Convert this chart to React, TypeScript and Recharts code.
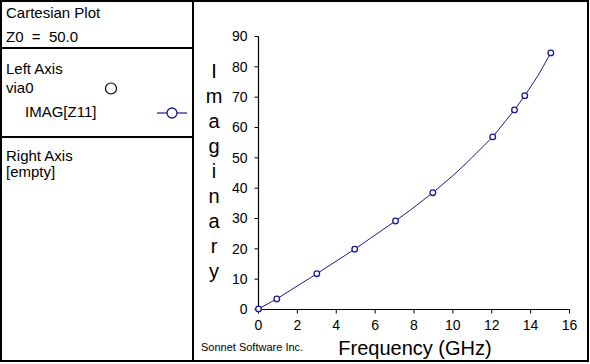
import React from "react";
import { LineChart, Line, XAxis, YAxis } from "recharts";

// Swept frequencies (GHz) and IMAG[Z11] values
const freqs = [0, 0.94, 3.0, 4.95, 7.05, 7.9, 8.97, 10.1, 10.7, 12.05, 13.17, 13.7, 14.37, 15.04];
const imagZ11 = [0.2, 3.5, 11.8, 19.9, 29.2, 33.2, 38.5, 44.7, 48.3, 56.9, 65.8, 70.5, 77.0, 84.6];
const hasMarker = [true, true, true, true, true, false, true, false, false, true, true, true, false, true];

const xTicks = [0, 2, 4, 6, 8, 10, 12, 14, 16];
const yTicks = [0, 10, 20, 30, 40, 50, 60, 70, 80, 90];
const yLabel = "Imaginary";
const xLabel = "Frequency (GHz)";

const data = freqs.map((f, i) => ({ f, v: imagZ11[i], m: hasMarker[i] }));

const FONT = "'Liberation Sans', Arial, sans-serif";
const NAVY = "#1a1a8c";

const MarkerDot = (props: any) => {
  const { cx, cy, payload, index } = props;
  if (!payload || !payload.m) return <g key={`d${index}`} />;
  return <circle key={`d${index}`} cx={cx} cy={cy} r={2.8} stroke={NAVY} strokeWidth={1.3} fill="#fff" />;
};

export default function App() {
  const tickStyle = { fill: "#000", fontSize: 14, fontFamily: FONT };
  return (
    <div style={{ position: "absolute", left: 0, top: 0, width: 590, height: 364, background: "#fff" }}>
      <div style={{ position: "absolute", left: 0, top: 0 }}>
        <LineChart
          width={590}
          height={364}
          data={data}
          margin={{ top: 36.5, right: 20.5, bottom: 0, left: 218.5 }}
        >
          <XAxis
            xAxisId="b"
            dataKey="f"
            type="number"
            domain={[0, 16]}
            ticks={xTicks}
            interval={0}
            height={54.5}
            tickSize={4}
            tickMargin={7}
            tick={tickStyle}
            axisLine={{ stroke: "#000", strokeWidth: 1.2 }}
            tickLine={{ stroke: "#000" }}
          />
          <XAxis
            xAxisId="t"
            dataKey="f"
            type="number"
            domain={[0, 16]}
            orientation="top"
            height={0}
            tick={false}
            tickLine={false}
            axisLine={{ stroke: "#000", strokeWidth: 1.2 }}
          />
          <YAxis
            yAxisId="l"
            type="number"
            domain={[0, 90]}
            ticks={yTicks}
            interval={0}
            width={40}
            tickSize={4}
            tickMargin={7}
            tick={tickStyle}
            axisLine={{ stroke: "#000", strokeWidth: 1.2 }}
            tickLine={{ stroke: "#000" }}
          />
          <YAxis
            yAxisId="r"
            type="number"
            domain={[0, 90]}
            orientation="right"
            width={0}
            tick={false}
            tickLine={false}
            axisLine={{ stroke: "#000", strokeWidth: 1.2 }}
          />
          <Line
            xAxisId="b"
            yAxisId="l"
            type="linear"
            dataKey="v"
            stroke={NAVY}
            strokeWidth={1}
            dot={MarkerDot}
            activeDot={false}
            isAnimationActive={false}
          />
        </LineChart>
      </div>
      <svg
        width={590}
        height={364}
        style={{ position: "absolute", left: 0, top: 0, pointerEvents: "none" }}
        fontFamily={FONT}
      >
        {/* outer frame and left panel */}
        <rect x={1} y={1} width={587} height={360} fill="none" stroke="#000" strokeWidth={2} />
        <line x1={193} y1={0} x2={193} y2={362} stroke="#000" strokeWidth={2} />
        <line x1={0} y1={48} x2={193} y2={48} stroke="#000" strokeWidth={2} />
        <line x1={0} y1={137} x2={193} y2={137} stroke="#000" strokeWidth={2} />

        <text x={6} y={18} fontSize={15} fill="#000">Cartesian Plot</text>
        <text x={6} y={42} fontSize={15} fill="#000" style={{ whiteSpace: "pre" }}>Z0  =  50.0</text>
        <text x={6} y={74} fontSize={15} fill="#000">Left Axis</text>
        <text x={6} y={93} fontSize={15} fill="#000">via0</text>
        <circle cx={111} cy={88.5} r={5.5} fill="#fff" stroke="#000" strokeWidth={1.2} />
        <text x={25} y={117} fontSize={15} fill="#000">IMAG[Z11]</text>
        <line x1={157} y1={113} x2={187} y2={113} stroke={NAVY} strokeWidth={1.2} />
        <circle cx={172} cy={113} r={5} fill="#fff" stroke={NAVY} strokeWidth={1.3} />
        <text x={6} y={161} fontSize={15} fill="#000">Right Axis</text>
        <text x={6} y={177} fontSize={15} fill="#000">[empty]</text>

        {/* axis titles */}
        {yLabel.split("").map((ch, i) => (
          <text key={i} x={214} y={78 + i * 25} fontSize={20} textAnchor="middle" fill="#000">
            {ch}
          </text>
        ))}
        <text x={415} y={355} fontSize={20} textAnchor="middle" fill="#000">{xLabel}</text>
        <text x={201} y={351} fontSize={11} fill="#000">Sonnet Software Inc.</text>
      </svg>
    </div>
  );
}
